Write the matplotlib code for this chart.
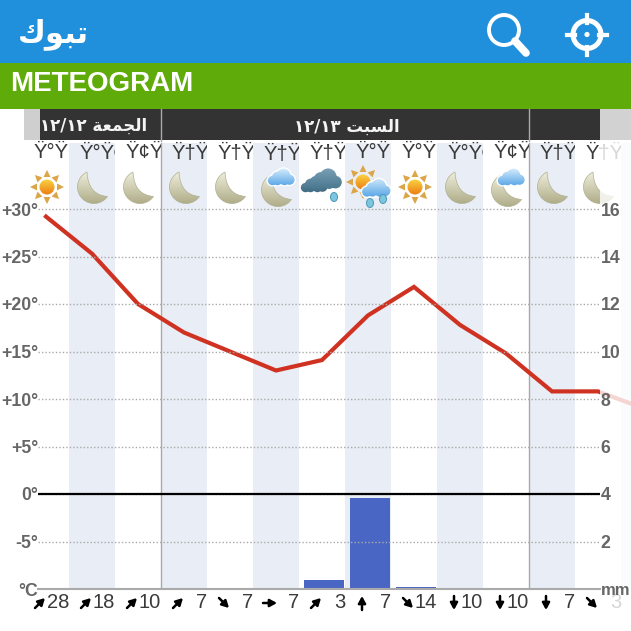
import numpy as np
import matplotlib
matplotlib.use('Agg')
import matplotlib.pyplot as plt
from matplotlib import patches
from matplotlib.colors import LinearSegmentedColormap
from matplotlib.path import Path

plt.rcParams['font.family'] = ['Liberation Sans', 'DejaVu Sans']

# one entry per three hour column
hours = ['Ÿ°Ÿ•', 'Ÿ°Ÿ®', 'Ÿ¢Ÿ°', 'Ÿ†Ÿ†', 'Ÿ†Ÿ£', 'Ÿ†Ÿ¶', 'Ÿ†Ÿ©', 'Ÿ°Ÿ¢', 'Ÿ°Ÿ•', 'Ÿ°Ÿ®', 'Ÿ¢Ÿ°', 'Ÿ†Ÿ†', 'Ÿ†Ÿ£']
icons = ['sun', 'moon', 'moon', 'moon', 'moon', 'cloud_moon', 'rain', 'sun_rain', 'sun', 'moon', 'cloud_moon', 'moon', 'moon']
temps = [29.2, 25.3, 20, 17, 15, 13, 14.1, 18.8, 21.8, 17.8, 14.8, 10.8, 10.8, 9]
rain = [0, 0, 0, 0, 0, 0, 0.37, 3.85, 0.1, 0, 0, 0, 0]
wind_speed = [28, 18, 10, 7, 7, 7, 3, 7, 14, 10, 10, 7, 3]
wind_dir = ['ne', 'ne', 'ne', 'ne', 'se', 'e', 'ne', 'n', 'se', 's', 's', 's', 'se']

temp_ticks = [-10, -5, 0, 5, 10, 15, 20, 25, 30]
temp_labels = ['°C', '-5°', '0°', '+5°', '+10°', '+15°', '+20°', '+25°', '+30°']
mm_ticks = [0, 2, 4, 6, 8, 10, 12, 14, 16]
mm_labels = ['mm', '2', '4', '6', '8', '10', '12', '14', '16']

city = 'ﻙﻮﺒﺗ'
day_labels = ['١٢/١٢ ﺔﻌﻤﺠﻟﺍ', '١٢/١٣ ﺖﺒﺴﻟﺍ']

W = 631
COL = 46


def col_x(i):
    return COL + COL * i


def gradient(ov, patch, top, bottom, x0, x1, y0, y1, z):
    patch.set_facecolor('none')
    patch.set_edgecolor('none')
    ov.add_patch(patch)
    cmap = LinearSegmentedColormap.from_list('g', [top, bottom])
    im = ov.imshow(np.linspace(0, 1, 32)[:, None], cmap=cmap, extent=(x0, x1, y1, y0),
                   aspect='auto', zorder=z)
    im.set_clip_path(patch)


def draw_moon(ov, cx, cy, z=6):
    # outer arc from the top tip round the left side to the right tip
    pts = [(cx + 2 + 16.5 * np.cos(a), cy + 16.5 * np.sin(a)) for a in np.radians(np.linspace(245, 35, 36))]
    tip = pts[0]
    ctrl = (cx - 4, cy + 8)
    verts = pts + [ctrl, tip, tip]
    codes = [Path.MOVETO] + [Path.LINETO] * (len(pts) - 1) + [Path.CURVE3, Path.CURVE3, Path.CLOSEPOLY]
    p = patches.PathPatch(Path(verts, codes), transform=ov.transData)
    gradient(ov, p, '#f0efdc', '#aeac88', cx - 16, cx + 18, cy - 16, cy + 17, z)
    ov.add_patch(patches.PathPatch(Path(verts, codes), fc='none', ec='#b0b092', lw=0.5, zorder=z + 0.1))


def draw_sun(ov, cx, cy, z=6):
    for a in np.radians(np.arange(0, 360, 45)):
        d = np.array([np.cos(a), np.sin(a)])
        n = np.array([-d[1], d[0]])
        c = np.array([cx, cy])
        tri = [c + d * 10 + n * 3.5, c + d * 10 - n * 3.5, c + d * 17]
        ov.add_patch(patches.Polygon(tri, fc='#dba548', ec='none', zorder=z))
    disc = patches.Circle((cx, cy), 7.5, transform=ov.transData)
    gradient(ov, disc, '#fbd342', '#ec7d12', cx - 8, cx + 8, cy - 8, cy + 8, z + 0.1)


def draw_cloud(ov, cx, cy, s, top, bottom, z=7, halo=True):
    parts = [(-10, 3, 5.5), (-4, -1, 6.5), (3, -3, 8), (10, 2, 6), (-4, 3, 5.5), (4, 3, 5.5)]
    if halo:
        for dx, dy, r in parts:
            ov.add_patch(patches.Circle((cx + dx * s, cy + dy * s), (r + 1.6) * s, fc='white', ec='none', zorder=z))
    path = Path.make_compound_path(*[Path.circle((cx + dx * s, cy + dy * s), r * s) for dx, dy, r in parts])
    p = patches.PathPatch(path, transform=ov.transData)
    gradient(ov, p, top, bottom, cx - 17 * s, cx + 17 * s, cy - 12 * s, cy + 9 * s, z + 0.1)


def draw_drop(ov, cx, cy, z=8):
    ov.add_patch(patches.Ellipse((cx, cy), 7, 9, fc='#7cc6e0', ec='#4d97b5', lw=0.7, zorder=z))


def draw_icon(ov, kind, cx):
    cy = 187
    if kind == 'sun':
        draw_sun(ov, cx + 1, cy)
    elif kind == 'moon':
        draw_moon(ov, cx, cy)
    elif kind == 'cloud_moon':
        draw_moon(ov, cx, cy + 3)
        draw_cloud(ov, cx + 5, cy - 9, 0.85, '#d6ecfb', '#5aa7e8')
    elif kind == 'rain':
        draw_cloud(ov, cx - 8, cy - 2, 0.85, '#6f97ad', '#3f6a82', z=6, halo=False)
        draw_cloud(ov, cx + 3, cy - 7, 1.05, '#7ea3b8', '#4a788f', z=7, halo=False)
        draw_drop(ov, cx + 12, cy + 10)
    elif kind == 'sun_rain':
        draw_sun(ov, cx - 5, cy - 5)
        draw_cloud(ov, cx + 8, cy + 2, 0.9, '#cfe8fa', '#5aa7e8')
        draw_drop(ov, cx + 2, cy + 16)
        draw_drop(ov, cx + 15, cy + 12)


fig = plt.figure(figsize=(W / 100, W / 100), dpi=100)

# pixel overlay for the app chrome, icons and wind row
ov = fig.add_axes([0, 0, 1, 1], zorder=2)
ov.patch.set_visible(False)
ov.axis('off')

ax = fig.add_axes([38 / W, (W - 589) / W, 562 / W, 446.5 / W], zorder=1)
ax.set_xlim((38 - COL) / COL, (600 - COL) / COL)
ax.set_ylim(-10, 37)
ax.patch.set_visible(False)
for s in ax.spines.values():
    s.set_visible(False)
ax.set_xticks([])
ax.set_yticks(temp_ticks)
ax.set_yticklabels(temp_labels, fontsize=12.7, color='#666666', fontweight='bold')
ax.tick_params(axis='y', length=0, pad=0)

for i in range(1, 14, 2):
    ax.axvspan(i - 0.5, i + 0.5, color='#e9edf5', lw=0, zorder=0, clip_on=False)
for i in [3, 11]:
    ax.axvline(i - 0.5, color='#a9a9a9', lw=1, zorder=1)
ax.plot(range(len(temps)), temps, color='#d03222', lw=3, clip_on=False, zorder=3, solid_joinstyle='miter')

ax2 = ax.twinx()
ax2.set_zorder(3)
ax2.patch.set_visible(False)
ax2.set_ylim(0, 47 * 9.5 / 23.75)
ax2.set_yticks(mm_ticks)
ax2.set_yticklabels(mm_labels, fontsize=12.7, color='#666666', fontweight='bold')
ax2.get_yticklabels()[0].set_fontsize(12)
ax2.tick_params(axis='y', length=0, pad=0.5)
for name, s in ax2.spines.items():
    s.set_visible(name == 'bottom')
ax2.spines['bottom'].set_color('#aaaaaa')
ax2.spines['bottom'].set_linewidth(1.5)
ax2.bar(np.arange(len(rain)) + 0.04, rain, width=0.87, color='#4a66c4', zorder=2)
ax2.set_axisbelow(False)
ax2.grid(True, axis='y', color='#aaaaaa', ls=(0, (1, 1.5)), lw=1)
ax2.axhline(4, color='black', lw=1.6, zorder=4)

# header bars
ov.add_patch(patches.Rectangle((0, 0), W, 63, fc='#2190dc', ec='none'))
ov.add_patch(patches.Rectangle((0, 63), W, 46, fc='#5fab0a', ec='none'))
ov.add_patch(patches.Rectangle((24, 109), 16, 31, fc='#cfcfcf', ec='none'))
ov.add_patch(patches.Rectangle((600, 109), 31, 31, fc='#d2d2d2', ec='none'))
ov.add_patch(patches.Rectangle((40, 109), 560, 31, fc='#333333', ec='none'))
for i in [3, 11]:
    ov.plot([col_x(i) - 23] * 2, [109, 141], color='#a9a9a9', lw=1, zorder=2)
ov.text(53, 34, city, color='white', fontsize=22, fontweight='bold', family='DejaVu Sans', ha='center', va='center')
ov.text(10, 84, 'METEOGRAM', color='white', fontsize=20, fontweight='bold', ha='left', va='center')
ov.text(94, 126, day_labels[0], color='#f4f4f4', fontsize=12, fontweight='bold', family='DejaVu Sans', ha='center', va='center')
ov.text(347, 127, day_labels[1], color='#f4f4f4', fontsize=12, fontweight='bold', family='DejaVu Sans', ha='center', va='center')

# search and locate buttons
ov.add_patch(patches.Circle((504, 30), 15, fc='none', ec='white', lw=2.8))
ov.plot([515, 526], [41, 53], color='white', lw=5.5, solid_capstyle='round')
ov.add_patch(patches.Circle((587, 34.5), 14, fc='none', ec='white', lw=3.6))
ov.add_patch(patches.Circle((587, 34.5), 2.6, fc='white', ec='none'))
for dx, dy in [(1, 0), (-1, 0), (0, 1), (0, -1)]:
    ov.plot([587 + dx * 12, 587 + dx * 20], [34.5 + dy * 12, 34.5 + dy * 20], color='white', lw=3)

# hour row, text is cut off at the column edge
for i, label in enumerate(hours):
    x = col_x(i)
    t = ov.text(x - 12, 153, label, fontsize=14.5, color='#3a3a3a', ha='left', va='center')
    t.set_clip_path(patches.Rectangle((x - 23, 140), COL, 30, transform=ov.transData))
    t.set_clip_on(True)

for i, kind in enumerate(icons):
    draw_icon(ov, kind, col_x(i))

# wind row
arrow_vec = {'ne': (1, -1), 'se': (1, 1), 'e': (1.4, 0), 'n': (0, -1.4), 's': (0, 1.4)}
for i, (speed, d) in enumerate(zip(wind_speed, wind_dir)):
    x = col_x(i) - 6
    vx, vy = arrow_vec[d]
    ov.annotate('', xy=(x + vx * 5, 603 + vy * 5), xytext=(x - vx * 5, 603 - vy * 5), zorder=5,
                arrowprops=dict(arrowstyle='-|>,head_width=0.22,head_length=0.4', color='black', lw=1.8,
                                shrinkA=0, shrinkB=0))
    ov.text(col_x(i) + 23, 603, str(speed), fontsize=14.5, color='#3a3a3a', ha='right', va='center', zorder=3)

# page fades out on the right
ov.add_patch(patches.Rectangle((600, 140), 31, 491, fc='white', ec='none', alpha=0.8, zorder=9))

ov.set_xlim(0, W)
ov.set_ylim(W, 0)

fig.savefig('out.png', dpi=100)
